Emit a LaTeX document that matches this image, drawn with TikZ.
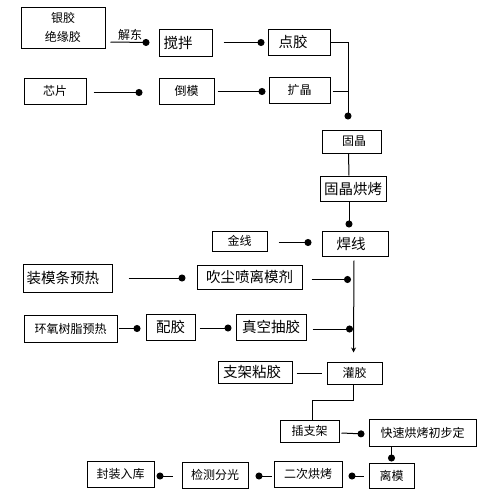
\documentclass[tikz,border=0pt]{standalone}
\usepackage{fontspec}
\setmainfont{Noto Sans CJK SC}
\usetikzlibrary{arrows.meta}
\begin{document}
\begin{tikzpicture}[x=1pt,y=-1pt,
  box/.style={draw,line width=1pt,inner sep=0pt,align=center},
  sm/.style={font=\fontsize{12}{19}\selectfont},
  lg/.style={font=\fontsize{14.5}{17}\selectfont},
  ln/.style={line width=1pt},
  dotln/.style={line width=1pt,-{Circle[length=7pt,width=7pt]}},
  arln/.style={line width=1pt,-{Stealth[length=5pt,width=5pt]}}]
\useasboundingbox[fill=white] (0,0) rectangle (489,499);
% boxes
\node[box,sm,minimum width=84pt,minimum height=41pt] (yj) at (63,27.5) {银胶\\绝缘胶};
\node[box,lg,minimum width=53pt,minimum height=27pt] (jb) at (185.5,42.5) {搅拌\hspace{15pt}};
\node[box,lg,minimum width=62pt,minimum height=26pt] (dj) at (299,42) {点胶\hspace{12pt}};
\node[box,sm,minimum width=62pt,minimum height=26pt] (xp) at (55,91) {芯片};
\node[box,sm,minimum width=55pt,minimum height=26pt] (dm) at (186.5,91) {倒模};
\node[box,sm,minimum width=61pt,minimum height=26pt] (kj) at (299.5,90) {扩晶};
\node[box,sm,minimum width=59pt,minimum height=23pt] (gj) at (351.5,141.5) {\hspace{5pt}固晶};
\node[box,lg,minimum width=66pt,minimum height=25pt] (gjhk) at (353,188.5) {固晶烘烤};
\node[box,lg,minimum width=66pt,minimum height=25pt] (hx) at (355,243.5) {焊线\hspace{8pt}};
\node[box,sm,minimum width=55pt,minimum height=20pt] (jx) at (239.5,241) {金线};
\node[box,lg,minimum width=89pt,minimum height=28pt] (zmt) at (67.5,278) {装模条预热\hspace{9pt}};
\node[box,lg,minimum width=105pt,minimum height=24pt] (cc) at (249.5,277) {吹尘喷离模剂};
\node[box,sm,minimum width=93pt,minimum height=27pt] (hy) at (70.5,328.5) {环氧树脂预热};
\node[box,lg,minimum width=49pt,minimum height=26pt] (pj) at (170.5,327) {配胶};
\node[box,lg,minimum width=70pt,minimum height=26pt] (zk) at (271,327) {真空抽胶};
\node[box,lg,minimum width=74pt,minimum height=22pt] (zj) at (255,372) {支架粘胶\hspace{6pt}};
\node[box,sm,minimum width=55pt,minimum height=22pt] (gjiao) at (354.5,373) {灌胶};
\node[box,sm,minimum width=59pt,minimum height=22pt] (czj) at (309.5,431) {插支架};
\node[box,sm,minimum width=107pt,minimum height=27pt] (ks) at (422.5,432.5) {快速烘烤初步定};
\node[box,sm,minimum width=45pt,minimum height=25pt] (lm) at (391.5,475.5) {离模};
\node[box,sm,minimum width=68pt,minimum height=26pt] (ec) at (308,474) {二次烘烤};
\node[box,sm,minimum width=66pt,minimum height=26pt] (jc) at (215,475) {检测分光};
\node[box,sm,minimum width=67pt,minimum height=26pt] (fz) at (120.5,474) {封装入库};
% connectors
\draw[dotln] ([xshift=5pt,yshift=-14.5pt]yj.east) -- node[sm,above=0pt,inner sep=1pt] (jd) {解东} ([xshift=-9pt]jb.west);
\draw[dotln] ([xshift=11pt]jb.east) -- ([xshift=-3pt,yshift=-0.5pt]dj.west);
\draw[dotln] ([xshift=7pt,yshift=-1.5pt]xp.east) -- ([xshift=-16pt,yshift=-1.5pt]dm.west);
\draw[dotln] ([xshift=3pt,yshift=-0.5pt]dm.east) -- ([xshift=-3pt,yshift=-1.5pt]kj.west);
\coordinate (j1) at ([xshift=-3.5pt]gj.north |- dj.east);
\draw[dotln] (dj.east) -- (j1) -- ([xshift=-3.5pt,yshift=10pt]gj.north);
\draw[ln] ([xshift=2pt,yshift=-1pt]kj.east) -- ([yshift=-1pt]kj.east -| j1);
\draw[ln] ([xshift=-3pt]gj.south) -- ([xshift=-4pt]gjhk.north);
\draw[dotln] ([xshift=-4pt]gjhk.south) -- ([xshift=-6pt,yshift=3pt]hx.north);
\draw[dotln] ([xshift=11pt,yshift=-1.5pt]jx.east) -- ([xshift=-10pt,yshift=1pt]hx.west);
\coordinate (vl) at ([xshift=-1pt]hx.south);
\draw[arln] ([yshift=-4pt]vl) -- ([xshift=-1pt,yshift=9pt]gjiao.north);
\draw[dotln] ([xshift=9pt,yshift=-2.5pt]cc.east) -- ([xshift=-3pt,yshift=-2.5pt]cc.east -| vl);
\draw[dotln] ([xshift=16pt]zmt.east) -- ([xshift=-11pt,yshift=-1pt]cc.west);
\draw[dotln] ([xshift=1pt]hy.east) -- ([xshift=-5pt,yshift=-1.5pt]pj.west);
\draw[dotln] ([xshift=4pt,yshift=-1pt]pj.east) -- ([xshift=-4pt,yshift=-1pt]zk.west);
\draw[dotln] ([xshift=6pt,yshift=-2pt]zk.east) -- ([xshift=-1pt,yshift=-2pt]zk.east -| vl);
\draw[ln] ([xshift=4pt,yshift=-1pt]zj.east) -- ([xshift=-5pt]gjiao.west);
\draw[ln] ([xshift=-1.5pt]gjiao.south) -- ++(0,16) -| ([xshift=2.5pt]czj.north);
\draw[dotln] ([xshift=2pt,yshift=-2pt]czj.east) -- ([xshift=-4pt,yshift=-1.5pt]ks.west);
\draw[dotln] (ks.south -| lm.north) -- ([yshift=1pt]lm.north);
\draw[dotln] ([xshift=-5pt,yshift=-0.5pt]lm.west) -- ([xshift=6pt,yshift=-2pt]ec.east);
\draw[dotln] ([xshift=-2pt,yshift=-2pt]ec.west) -- ([xshift=7pt,yshift=-1pt]jc.east);
\draw[dotln] ([xshift=-9pt,yshift=-1pt]jc.west) -- ([xshift=2pt,yshift=-2pt]fz.east);
\end{tikzpicture}
\end{document}
